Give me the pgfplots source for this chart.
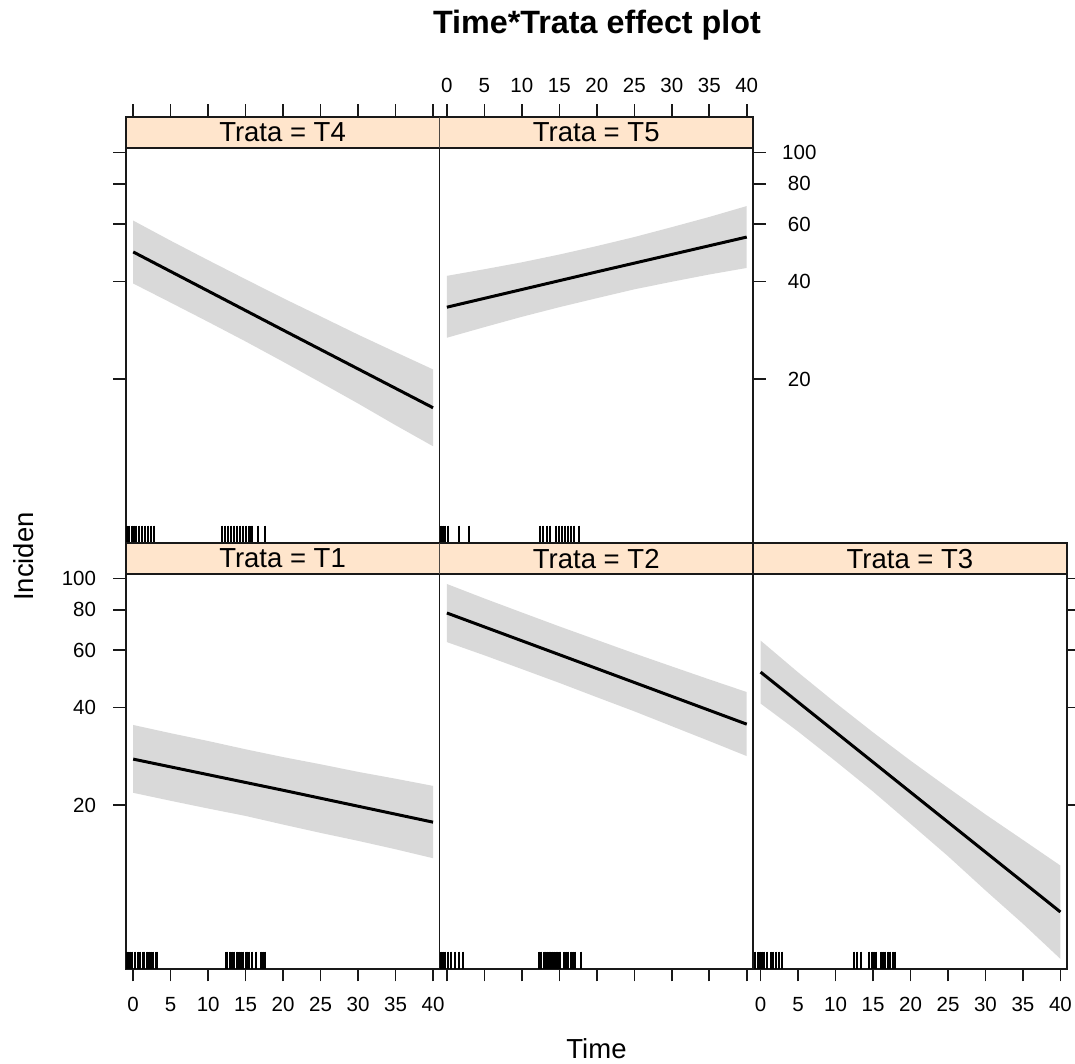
\documentclass[border=0pt]{standalone}
\usepackage{pgfplots}
\pgfplotsset{compat=1.18}
\usepackage{fontspec}
\setmainfont{Liberation Sans}

\definecolor{stripcol}{HTML}{FFE5CC}
\definecolor{bandcol}{HTML}{D9D9D9}
\newcommand\ticksize{\fontsize{20.5}{24}\selectfont}
\newcommand\stripsize{\fontsize{27.5}{32}\selectfont}

% common look of every lattice panel: data area 313.7 x 394.7, strip 31.5 on top
\pgfplotsset{
  every axis/.append style={
    scale only axis, width=313.7pt, height=426.2pt,
    xmin=-1.0, xmax=40.85,
    ymin=6.237, ymax=128.76,
    xtick={0,5,...,40},
    tick align=outside,
    major tick length=12.5pt,
    tick style={line width=1.6pt, black!90},
    axis line style={line width=1.6pt, black!90},
    tick label style={font=\ticksize, inner sep=0pt},
    /pgf/number format/assume math mode=true,
  },
}
\tikzset{
  latband/.style={fill=bandcol, draw=none},
  lateffect/.style={black, line width=3pt},
}
\newcommand\panelstrip[1]{%
  \draw[line width=1.6pt, draw=black!90, fill=stripcol]
    (rel axis cs:0,0.92609) rectangle (rel axis cs:1,1);
  \node[font=\stripsize, inner sep=0pt] at (rel axis cs:0.5,0.96305) {#1};
}

\begin{document}
\begin{tikzpicture}
\useasboundingbox (0pt,0pt) rectangle (1075pt,1063pt);

% ---------------- top row ----------------
\begin{axis}[at={(125.7pt,520pt)}, anchor=south west,
  ymode=log, ytick={20,40,60,80,100},
  xtick pos=right, xticklabel pos=right, xticklabels={},
  ytick pos=left, yticklabels={}]
\addplot[latband] table {
x y
0 61.6
5 53.4
10 46.5
15 40.6
20 35.5
25 31.2
30 27.4
35 24.2
40 21.4
40 12.4
35 14.4
30 16.8
25 19.5
20 22.6
15 26.1
10 30.0
5 34.4
0 39.4
};
\addplot[lateffect] coordinates {(0,49.3) (20,28.3) (40,16.3)};
\addplot[only marks, mark=|, mark size=8.65pt, black, mark options={line width=2pt}]
  coordinates {(-0.85,6.633) (-0.6,6.633) (-0.2,6.633) (0.1,6.633)
  (0.4,6.633) (0.8,6.633) (1.2,6.633) (1.6,6.633) (2.0,6.633) (2.4,6.633) (2.8,6.633)
  (11.8,6.633) (12.2,6.633) (12.6,6.633) (13.0,6.633) (13.4,6.633) (13.8,6.633)
  (14.3,6.633) (14.7,6.633) (15.1,6.633) (15.4,6.633) (15.7,6.633) (15.9,6.633)
  (16.6,6.633) (17.6,6.633)};
\panelstrip{Trata = T4}
\end{axis}

\begin{axis}[at={(439.4pt,520pt)}, anchor=south west,
  ymode=log, ytick={20,40,60,80,100},
  xtick pos=right, xticklabel pos=right,
  xticklabel style={yshift=11.5pt},
  ytick pos=right, yticklabel pos=right,
  yticklabels={20,40,60,80,100},
  yticklabel style={anchor=west, text width=35pt, align=center, xshift=16pt}]
\addplot[latband] table {
x y
0 41.6
5 43.6
10 45.8
15 48.4
20 51.4
25 54.8
30 58.8
35 63.2
40 68.3
40 44.0
35 42.0
30 39.9
25 37.8
20 35.5
15 33.3
10 31.1
5 28.9
0 26.8
};
\addplot[lateffect] coordinates {(0,33.3) (20,42.8) (40,54.8)};
\addplot[only marks, mark=|, mark size=8.65pt, black, mark options={line width=2pt}]
  coordinates {(-0.8,6.633) (-0.5,6.633) (-0.2,6.633) (0.1,6.633)
  (1.6,6.633) (3.0,6.633)
  (12.4,6.633) (12.8,6.633) (13.3,6.633) (13.8,6.633) (14.6,6.633) (15.0,6.633)
  (15.4,6.633) (15.8,6.633) (16.2,6.633) (16.6,6.633) (17.0,6.633) (17.6,6.633)};
\panelstrip{Trata = T5}
\end{axis}

% ---------------- bottom row ----------------
\begin{axis}[at={(125.7pt,94pt)}, anchor=south west,
  ymode=log, ytick={20,40,60,80,100},
  xtick pos=left, xticklabel pos=left,
  xticklabel style={yshift=-15.7pt},
  ytick pos=left, yticklabel pos=left,
  yticklabels={20,40,60,80,100},
  yticklabel style={xshift=-17pt}]
\addplot[latband] table {
x y
0 35.3
5 33.3
10 31.5
15 29.7
20 28.1
25 26.7
30 25.3
35 24.1
40 22.9
40 13.7
35 14.6
30 15.5
25 16.4
20 17.4
15 18.5
10 19.5
5 20.6
0 21.8
};
\addplot[lateffect] coordinates {(0,27.7) (20,22.2) (40,17.7)};
\addplot[only marks, mark=|, mark size=8.65pt, black, mark options={line width=2pt}]
  coordinates {(-0.85,6.633) (-0.7,6.633) (-0.4,6.633) (-0.2,6.633)
  (0.2,6.633) (0.7,6.633) (0.9,6.633) (1.25,6.633) (1.4,6.633) (1.8,6.633)
  (2.1,6.633) (2.4,6.633) (2.7,6.633) (3.0,6.633) (3.2,6.633)
  (12.4,6.633) (12.5,6.633) (12.9,6.633) (13.2,6.633) (13.5,6.633) (13.8,6.633)
  (14.1,6.633) (14.4,6.633) (14.7,6.633) (15.0,6.633) (15.2,6.633) (15.5,6.633)
  (15.8,6.633) (16.4,6.633) (17.0,6.633) (17.3,6.633) (17.6,6.633)};
\panelstrip{Trata = T1}
\end{axis}

\begin{axis}[at={(439.4pt,94pt)}, anchor=south west,
  ymode=log, ytick=\empty,
  xtick pos=left, xticklabel pos=left, xticklabels={}]
\addplot[latband] table {
x y
0 96.1
5 86.7
10 78.5
15 71.1
20 64.6
25 58.7
30 53.5
35 48.8
40 44.6
40 28.3
35 31.5
30 35.0
25 38.9
20 43.0
15 47.6
10 52.5
5 57.9
0 63.6
};
\addplot[lateffect] coordinates {(0,78.2) (20,52.7) (40,35.5)};
\addplot[only marks, mark=|, mark size=8.65pt, black, mark options={line width=2pt}]
  coordinates {(-0.8,6.633) (-0.5,6.633) (-0.3,6.633) (0.1,6.633)
  (0.6,6.633) (1.07,6.633) (1.6,6.633) (2.2,6.633)
  (12.3,6.633) (12.6,6.633) (12.9,6.633) (13.1,6.633) (13.4,6.633) (13.6,6.633)
  (13.8,6.633) (14.0,6.633) (14.3,6.633) (14.5,6.633) (14.7,6.633) (14.9,6.633)
  (15.1,6.633) (15.6,6.633) (15.9,6.633) (16.2,6.633) (16.5,6.633) (16.8,6.633)
  (17.1,6.633) (17.9,6.633)};
\panelstrip{Trata = T2}
\end{axis}

\begin{axis}[at={(753.1pt,94pt)}, anchor=south west,
  ymode=log, ytick={20,40,60,80,100},
  xtick pos=left, xticklabel pos=left,
  xticklabel style={yshift=-15.7pt},
  ytick pos=right, yticklabels={}]
\addplot[latband] table {
x y
0 64.3
5 51.3
10 41.3
15 33.5
20 27.4
25 22.6
30 18.7
35 15.6
40 13.0
40 6.7
35 8.6
30 10.9
25 13.9
20 17.5
15 22.0
10 27.3
5 33.7
0 41.1
};
\addplot[lateffect] coordinates {(0,51.4) (20,21.9) (40,9.35)};
\addplot[only marks, mark=|, mark size=8.65pt, black, mark options={line width=2pt}]
  coordinates {(-0.8,6.633) (-0.4,6.633) (-0.1,6.633) (0.2,6.633)
  (0.5,6.633) (0.9,6.633) (1.4,6.633) (1.6,6.633) (2.0,6.633) (2.5,6.633) (2.8,6.633)
  (12.4,6.633) (12.9,6.633) (13.4,6.633) (14.5,6.633) (14.8,6.633) (15.1,6.633)
  (15.4,6.633) (16.0,6.633) (16.3,6.633) (16.6,6.633) (17.0,6.633) (17.3,6.633)
  (17.6,6.633) (17.9,6.633)};
\panelstrip{Trata = T3}
\end{axis}

% titles and axis labels
\node[font=\fontsize{32.3}{38}\selectfont\bfseries, anchor=base, inner sep=0pt]
  at (597pt,1029pt) {Time*Trata effect plot};
\node[font=\fontsize{27.5}{32}\selectfont, anchor=base, inner sep=0pt]
  at (596.5pt,5pt) {Time};
\node[font=\fontsize{27.5}{32}\selectfont, anchor=base, rotate=90, inner sep=0pt]
  at (33pt,506.5pt) {Inciden};
\end{tikzpicture}
\end{document}
